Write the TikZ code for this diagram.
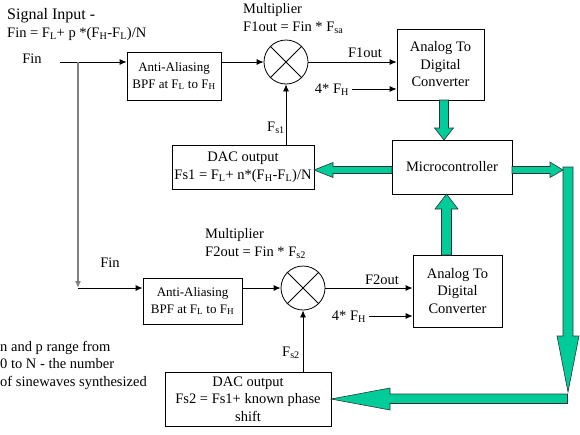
\documentclass[tikz,border=0pt]{standalone}
\usepackage{fontspec}
\setmainfont{Liberation Serif}
\usetikzlibrary{arrows.meta}
\definecolor{agreen}{RGB}{0,204,153}
\definecolor{lgray}{RGB}{128,128,128}
\tikzset{
  box/.style={draw, line width=0.8pt, rectangle, inner sep=0pt, align=center,
    font=\fontsize{14.5}{17.5}\selectfont},
  smallbox/.style={box, font=\fontsize{13}{17}\selectfont},
  mixer/.style={draw, line width=0.8pt, circle, minimum size=44pt, inner sep=0pt},
  lbl/.style={inner sep=0pt, font=\fontsize{14.5}{17.5}\selectfont},
  sig/.style={line width=0.8pt, -{Latex[length=7pt,width=6pt]}},
  plain/.style={line width=0.8pt},
  fat/.style={fill=agreen, draw=black!80, line width=0.6pt, line join=miter},
}
\newcommand{\sub}[1]{\textsubscript{#1}}
\begin{document}
\begin{tikzpicture}[x=1pt,y=-1pt]
\useasboundingbox (0,0) rectangle (580,434);

% boxes
\node[smallbox, minimum width=94pt, minimum height=48pt] (bpf1) at (174,76) {Anti-Aliasing\\BPF at F\sub{L} to F\sub{H}};
\node[mixer] (mix1) at (286,62) {};
\node[box, minimum width=87pt, minimum height=71pt] (adc1) at (440.5,64.5) {Analog To\\Digital\\Converter};
\node[box, minimum width=120pt, minimum height=54pt] (micro) at (452,167) {Microcontroller};
\node[box, minimum width=142pt, minimum height=44pt] (dac1) at (243,167) {DAC output\\Fs1 = F\sub{L}+ n*(F\sub{H}-F\sub{L})/N};
\node[smallbox, minimum width=99pt, minimum height=46pt] (bpf2) at (192.5,301) {Anti-Aliasing\\BPF at F\sub{L} to F\sub{H}};
\node[mixer] (mix2) at (303,288) {};
\node[box, minimum width=89pt, minimum height=72pt] (adc2) at (457.5,291) {Analog To\\Digital\\Converter};
\node[box, minimum width=166pt, minimum height=54pt] (dac2) at (248,399) {DAC output\\Fs2 = Fs1+ known phase\\shift};

% mixer crosses
\draw[plain] (mix1.north east) -- (mix1.south west) (mix1.north west) -- (mix1.south east);
\draw[plain] (mix2.north east) -- (mix2.south west) (mix2.north west) -- (mix2.south east);

% labels
\node[lbl, anchor=west, font=\fontsize{16}{18}\selectfont] (sigin) at (7,16) {Signal Input -};
\node[lbl, anchor=west] (sigeq) at (7,34) {Fin = F\sub{L}+ p *(F\sub{H}-F\sub{L})/N};
\node[lbl] (fintop) at (32,59) {Fin};
\node[lbl, anchor=west] (mult1) at (243,10) {Multiplier};
\node[lbl, anchor=west] (mult1eq) at (243,28) {F1out = Fin * F\sub{sa}};
\node[lbl] (f1out) at (365,53) {F1out};
\node[lbl] (fh1l) at (332,90) {4* F\sub{H}};
\node[lbl] (fs1) at (276,128) {F\sub{s1}};
\node[lbl, anchor=west] (mult2) at (205,235) {Multiplier};
\node[lbl, anchor=west] (mult2eq) at (205,253) {F2out = Fin * F\sub{s2}};
\node[lbl] (finbot) at (110,263) {Fin};
\node[lbl] (f2out) at (382,280) {F2out};
\node[lbl] (fh2l) at (349,317) {4* F\sub{H}};
\node[lbl] (fs2) at (291,353) {F\sub{s2}};
\node[lbl, anchor=north west, align=left] (note) at (0,341) {n and p range from\\0 to N - the number\\of sinewaves synthesized};

% signal path coordinates
\coordinate (finstart) at (60,62);
\coordinate (split) at (78,62);
\coordinate (split2) at (78,288);
\coordinate (fh1) at (352,89);
\coordinate (fh2) at (369,316);

% black connectors
\draw[sig] (finstart) -- (finstart -| bpf1.west);
\draw[sig] (bpf1.east |- mix1) -- (mix1.west);
\draw[sig] (mix1.east) -- (mix1 -| adc1.west);
\draw[sig] (fh1) -- (fh1 -| adc1.west);
\draw[sig] (mix1 |- dac1.north) -- (mix1.south);
\draw[line width=1.3pt, lgray, -{Latex[length=7pt,width=6pt]}] (split) -- (split2);
\draw[sig] (split2) -- (split2 -| bpf2.west);
\draw[sig] (bpf2.east |- mix2) -- (mix2.west);
\draw[sig] (mix2.east) -- (mix2 -| adc2.west);
\draw[sig] (fh2) -- (fh2 -| adc2.west);
\draw[sig] (mix2 |- dac2.north) -- (mix2.south);

% fat green arrows
% adc1 -> micro (down)
\draw[fat] (439.5,100) -- (448.5,100) -- (448.5,128) -- (453.5,128) -- (444,140) -- (434.5,128) -- (439.5,128) -- cycle;
% micro -> dac1 (left)
\draw[fat] (392,166.5) -- (333,166.5) -- (333,162.5) -- (314,170) -- (333,177.5) -- (333,173.5) -- (392,173.5) -- cycle;
% micro -> right
\draw[fat] (512,166.5) -- (550,166.5) -- (550,162) -- (563,170) -- (550,177.5) -- (550,173.5) -- (512,173.5) -- cycle;
% vertical down on the right
\draw[fat] (563,167) -- (573,167) -- (573,336) -- (579,336) -- (568,392) -- (557,336) -- (563,336) -- cycle;
% horizontal to dac2 (left)
\draw[fat] (567.5,394) -- (390,394) -- (390,388) -- (331,399) -- (390,410) -- (390,403.5) -- (567.5,403.5) -- cycle;
% adc2 -> micro (up)
\draw[fat] (441.5,255) -- (441.5,209) -- (435,209) -- (446.5,194) -- (458,209) -- (451.5,209) -- (451.5,255) -- cycle;
\end{tikzpicture}
\end{document}
